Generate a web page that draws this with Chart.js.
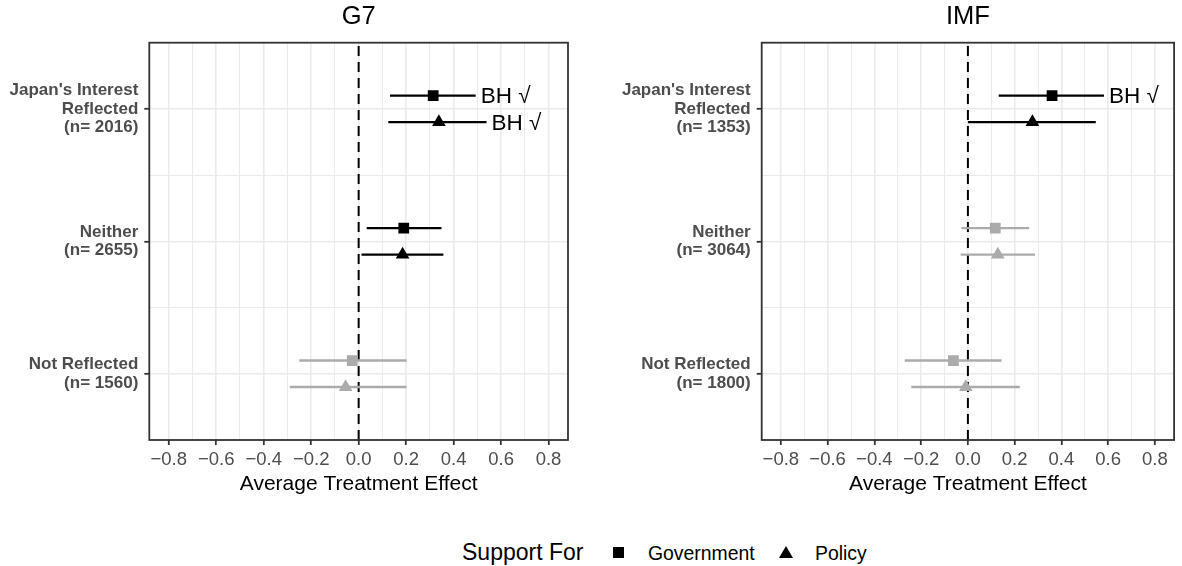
<!DOCTYPE html>
<html>
<head>
<meta charset="utf-8">
<script src="https://cdn.jsdelivr.net/npm/chart.js@4.4.1/dist/chart.umd.min.js"></script>
<style>
  body { margin: 0; background: #fff; width: 1182px; height: 566px; position: relative; overflow: hidden;
         font-family: "Liberation Sans", Arial, sans-serif; }
  .panel { position: absolute; top: 0; height: 497px; }
  #p1 { left: 0; width: 580px; }
  #p2 { left: 580px; width: 602px; }
  .lg { position: absolute; color: #000; white-space: nowrap; line-height: 26px; }
  #lgTitulo { left: 462px; top: 539px; font-size: 23px; }
  #lgCuadro { position: absolute; left: 613px; top: 547px; width: 10.5px; height: 10.5px; background: #000; }
  #lgTriangulo { position: absolute; left: 779px; top: 546px; width: 0; height: 0;
                 border-left: 7.5px solid transparent; border-right: 7.5px solid transparent; border-bottom: 12px solid #000; }
  #lgGob { left: 648px; top: 540px; font-size: 19.4px; }
  #lgPol { left: 815px; top: 540px; font-size: 19.4px; }
</style>
</head>
<body>
<div class="panel" id="p1"><canvas id="chartG7"></canvas></div>
<div class="panel" id="p2"><canvas id="chartIMF"></canvas></div>
<div class="lg" id="lgTitulo">Support For</div>
<div id="lgCuadro"></div>
<div class="lg" id="lgGob">Government</div>
<div id="lgTriangulo"></div>
<div class="lg" id="lgPol">Policy</div>

<script>
  var fuente = "'Liberation Sans', Arial, sans-serif";

  // categorias (de arriba hacia abajo)
  var categorias = [["Japan's Interest", "Reflected"], ["Neither"], ["Not Reflected"]];
  var nG7 = [2016, 2655, 1560];
  var nIMF = [1353, 3064, 1800];

  // G7
  var g7GovEst = [0.314, 0.190, -0.027];
  var g7GovLo  = [0.132, 0.034, -0.250];
  var g7GovHi  = [0.493, 0.349, 0.202];
  var g7PolEst = [0.338, 0.185, -0.055];
  var g7PolLo  = [0.125, 0.012, -0.290];
  var g7PolHi  = [0.539, 0.357, 0.202];
  var g7GovSig = [true, true, false];
  var g7PolSig = [true, true, false];
  var g7GovBH  = [true, false, false];
  var g7PolBH  = [true, false, false];

  // IMF
  var imfGovEst = [0.360, 0.117, -0.062];
  var imfGovLo  = [0.132, -0.028, -0.270];
  var imfGovHi  = [0.582, 0.262, 0.144];
  var imfPolEst = [0.276, 0.128, -0.009];
  var imfPolLo  = [0.000, -0.031, -0.242];
  var imfPolHi  = [0.547, 0.287, 0.222];
  var imfGovSig = [true, false, false];
  var imfPolSig = [true, false, false];
  var imfGovBH  = [true, false, false];
  var imfPolBH  = [false, false, false];

  // ejes
  var xMin = -0.882, xMax = 0.882;
  var xTicks = [-0.8, -0.7, -0.6, -0.5, -0.4, -0.3, -0.2, -0.1, 0, 0.1, 0.2, 0.3, 0.4, 0.5, 0.6, 0.7, 0.8];
  var xMayores = [-0.8, -0.6, -0.4, -0.2, 0, 0.2, 0.4, 0.6, 0.8];
  var yTicks = [1, 1.5, 2, 2.5, 3];
  var esquivar = 0.1;

  var NEGRO = "#000000";
  var GRIS = "#ABABAB";

  function esMayorX(v) {
    return xMayores.some(function(m) { return Math.abs(m - v) < 1e-6; });
  }

  function puntos(est, lo, hi, bh, offset) {
    return est.map(function(v, i) {
      return { x: v, y: i + 1 + offset, lo: lo[i], hi: hi[i], bh: bh[i] };
    });
  }

  function colores(sig) {
    return sig.map(function(s) { return s ? NEGRO : GRIS; });
  }

  var pluginBarras = {
    id: "barras",
    beforeDatasetsDraw: function(chart) {
      var ctx = chart.ctx, xs = chart.scales.x, ys = chart.scales.y, area = chart.chartArea;
      ctx.save();
      var x0 = xs.getPixelForValue(0);
      ctx.strokeStyle = NEGRO;
      ctx.lineWidth = 2;
      ctx.setLineDash([10, 6]);
      ctx.beginPath();
      ctx.moveTo(x0, area.bottom);
      ctx.lineTo(x0, area.top);
      ctx.stroke();
      ctx.setLineDash([]);
      chart.data.datasets.forEach(function(ds) {
        ds.data.forEach(function(p, i) {
          var y = ys.getPixelForValue(p.y);
          ctx.strokeStyle = ds.pointBackgroundColor[i];
          ctx.lineWidth = 2.4;
          ctx.beginPath();
          ctx.moveTo(xs.getPixelForValue(p.lo), y);
          ctx.lineTo(xs.getPixelForValue(p.hi), y);
          ctx.stroke();
        });
      });
      ctx.restore();
    },
    afterDatasetsDraw: function(chart) {
      var ctx = chart.ctx, xs = chart.scales.x, ys = chart.scales.y;
      ctx.save();
      ctx.fillStyle = NEGRO;
      ctx.font = "22.5px " + fuente;
      ctx.textAlign = "left";
      ctx.textBaseline = "middle";
      chart.data.datasets.forEach(function(ds) {
        ds.data.forEach(function(p) {
          if (!p.bh) return;
          ctx.fillText("BH \u221A", xs.getPixelForValue(p.hi) + 5, ys.getPixelForValue(p.y) + 1.5);
        });
      });
      ctx.restore();
    },
    afterDraw: function(chart) {
      var ctx = chart.ctx, a = chart.chartArea;
      ctx.save();
      ctx.strokeStyle = "#333333";
      ctx.lineWidth = 1.8;
      ctx.strokeRect(a.left, a.top, a.right - a.left, a.bottom - a.top);
      ctx.restore();
    }
  };

  function crearPanel(id, titulo, n, gov, pol, anchoEje, padDer) {
    var colGov = colores(gov.sig);
    var colPol = colores(pol.sig);
    return new Chart(document.getElementById(id), {
      type: "scatter",
      data: {
        datasets: [{
          label: "Government",
          data: puntos(gov.est, gov.lo, gov.hi, gov.bh, -esquivar),
          pointStyle: "rect",
          pointRadius: 7.6,
          pointBackgroundColor: colGov,
          pointBorderColor: colGov,
          pointBorderWidth: 0
        }, {
          label: "Policy",
          data: puntos(pol.est, pol.lo, pol.hi, pol.bh, esquivar),
          pointStyle: "triangle",
          pointRadius: 7.9,
          pointBackgroundColor: colPol,
          pointBorderColor: colPol,
          pointBorderWidth: 0
        }]
      },
      options: {
        animation: false,
        responsive: true,
        maintainAspectRatio: false,
        layout: { padding: { left: 0, right: padDer, top: 0, bottom: 0 } },
        plugins: {
          legend: { display: false },
          tooltip: { enabled: false },
          title: {
            display: true,
            text: titulo,
            fullSize: false,
            color: NEGRO,
            font: { family: fuente, size: 25.5, weight: "normal" },
            padding: { top: 1.4, bottom: 10.7 }
          }
        },
        scales: {
          x: {
            type: "linear",
            min: xMin,
            max: xMax,
            afterBuildTicks: function(s) { s.ticks = xTicks.map(function(v) { return { value: v }; }); },
            afterFit: function(s) { s.height = 57; },
            border: { display: false },
            grid: {
              color: "#EBEBEB",
              lineWidth: function(c) { return c.tick && esMayorX(c.tick.value) ? 1.6 : 1; },
              tickLength: 5,
              tickWidth: 1.8,
              tickColor: function(c) { return c.tick && esMayorX(c.tick.value) ? "#333333" : "rgba(0,0,0,0)"; }
            },
            ticks: {
              autoSkip: false,
              maxRotation: 0,
              padding: 4,
              color: "#4D4D4D",
              font: { family: fuente, size: 18.5 },
              callback: function(v) {
                if (!esMayorX(v)) return "";
                var t = Math.abs(v).toFixed(1);
                return v < -1e-6 ? "\u2212" + t : t;
              }
            },
            title: {
              display: true,
              text: "Average Treatment Effect",
              color: NEGRO,
              font: { family: fuente, size: 21 },
              padding: { top: 0, bottom: 0 }
            }
          },
          y: {
            type: "linear",
            reverse: true,
            min: 0.5,
            max: 3.5,
            afterBuildTicks: function(s) { s.ticks = yTicks.map(function(v) { return { value: v }; }); },
            afterFit: function(s) { s.width = anchoEje; },
            border: { display: false },
            grid: {
              color: "#EBEBEB",
              lineWidth: function(c) { return c.tick && Number.isInteger(c.tick.value) ? 1.6 : 1; },
              tickLength: 5,
              tickWidth: 1.8,
              tickColor: function(c) { return c.tick && Number.isInteger(c.tick.value) ? "#333333" : "rgba(0,0,0,0)"; }
            },
            ticks: {
              autoSkip: false,
              padding: 6,
              color: "#4D4D4D",
              font: { family: fuente, size: 17, weight: "bold", lineHeight: 1.09 },
              callback: function(v) {
                if (!Number.isInteger(v)) return "";
                return categorias[v - 1].concat(["(n= " + n[v - 1] + ")"]);
              }
            }
          }
        }
      },
      plugins: [pluginBarras]
    });
  }

  crearPanel("chartG7", "G7", nG7,
    { est: g7GovEst, lo: g7GovLo, hi: g7GovHi, sig: g7GovSig, bh: g7GovBH },
    { est: g7PolEst, lo: g7PolLo, hi: g7PolHi, sig: g7PolSig, bh: g7PolBH },
    149.3, 12);

  crearPanel("chartIMF", "IMF", nIMF,
    { est: imfGovEst, lo: imfGovLo, hi: imfGovHi, sig: imfGovSig, bh: imfGovBH },
    { est: imfPolEst, lo: imfPolLo, hi: imfPolHi, sig: imfPolSig, bh: imfPolBH },
    181.7, 2);
</script>
</body>
</html>
